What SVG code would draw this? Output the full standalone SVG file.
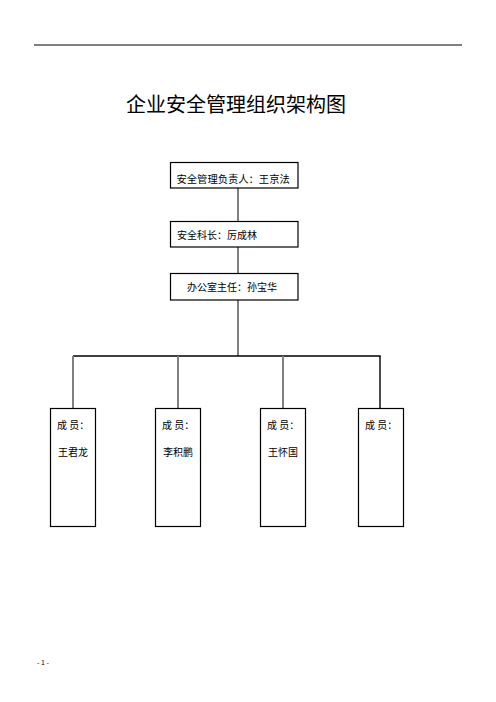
<svg xmlns="http://www.w3.org/2000/svg" width="496" height="702" viewBox="0 0 496 702">
<style>
text{font-family:"Noto Sans CJK SC","Liberation Sans",sans-serif;fill:#000}
.box{fill:#fff;stroke:#000;stroke-width:1.2}
.t{font-size:10px}
.g{stroke:#808080;stroke-width:2;fill:none}
.k{stroke:#000;stroke-width:1.4;fill:none}
</style>
<rect width="496" height="702" fill="#fff"/>
<line x1="34" y1="45" x2="462" y2="45" stroke="#000" stroke-width="1"/>
<text x="126" y="112" font-size="20">企业安全管理组织架构图</text>
<g id="connectors">
<line class="g" x1="238" y1="188" x2="238" y2="221"/>
<line class="g" x1="238" y1="247" x2="238" y2="273"/>
<line class="g" x1="238" y1="300" x2="238" y2="356"/>
<line class="k" x1="73" y1="356" x2="380.7" y2="356"/>
<line class="g" x1="73" y1="356" x2="73" y2="408"/>
<line class="g" x1="178" y1="356" x2="178" y2="408"/>
<line class="g" x1="283" y1="356" x2="283" y2="408"/>
<line class="k" x1="380" y1="356" x2="380" y2="408"/>
</g>
<g id="n1"><rect class="box" x="170.5" y="162.5" width="127.5" height="25.5"/><text class="t" x="176.5" y="183" style="font-size:10.3px">安全管理负责人：王京法</text></g>
<g id="n2"><rect class="box" x="170.5" y="221.5" width="127.5" height="25.5"/><text class="t" x="177" y="238.5">安全科长：厉成林</text></g>
<g id="n3"><rect class="box" x="170.5" y="273.5" width="127.5" height="26.5"/><text class="t" x="187" y="291">办公室主任：孙宝华</text></g>
<g id="m1"><rect class="box" x="50.5" y="408.5" width="45" height="118"/><text class="t" x="57" y="429">成 员：</text><text class="t" x="58" y="456">王君龙</text></g>
<g id="m2"><rect class="box" x="155.5" y="408.5" width="45" height="118"/><text class="t" x="162" y="429">成 员：</text><text class="t" x="163" y="456">李积鹏</text></g>
<g id="m3"><rect class="box" x="260.5" y="408.5" width="45" height="118"/><text class="t" x="267" y="429">成 员：</text><text class="t" x="268" y="456">王怀国</text></g>
<g id="m4"><rect class="box" x="358.5" y="408.5" width="45" height="118"/><text class="t" x="365" y="429">成 员：</text></g>
<text x="37" y="665" font-size="7">- 1 -</text>
</svg>
